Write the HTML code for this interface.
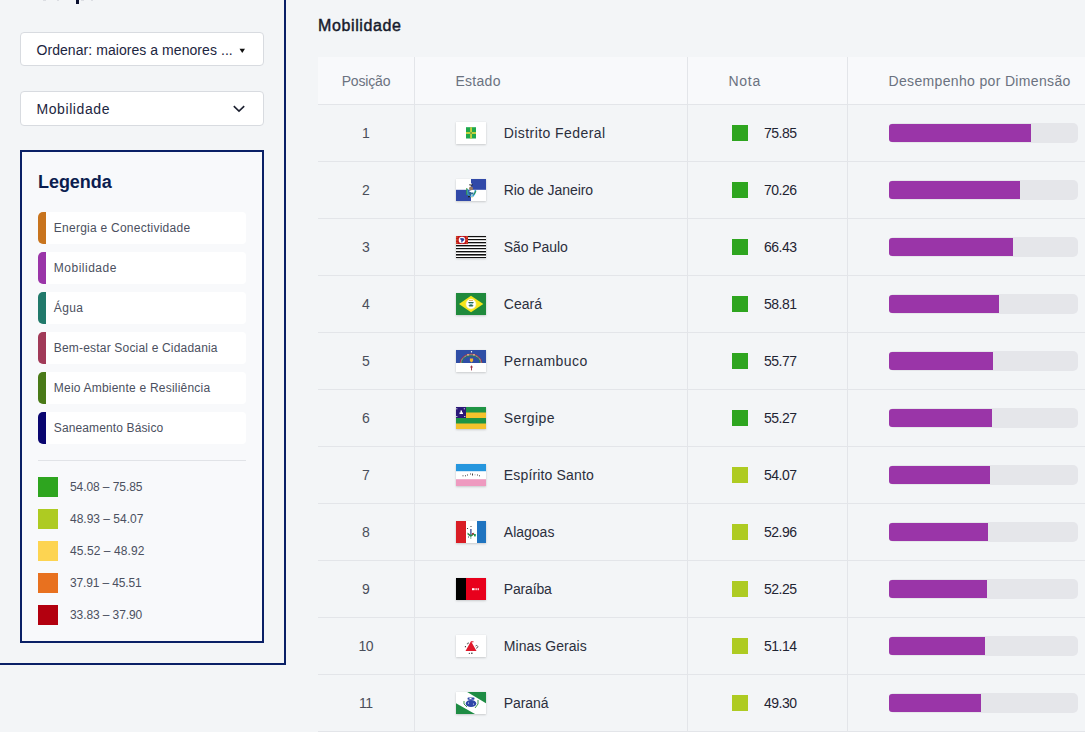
<!DOCTYPE html>
<html><head><meta charset="utf-8">
<style>
html,body{margin:0;padding:0;}
body{width:1085px;height:732px;overflow:hidden;background:#f3f5f7;position:relative;font-family:"Liberation Sans",sans-serif;}
.t{position:absolute;white-space:nowrap;line-height:1;}
.a{position:absolute;}
</style></head><body>
<div class="a" style="left:284px;top:0;width:2px;height:665px;background:#0a2066"></div>
<div class="a" style="left:0;top:663px;width:286px;height:2px;background:#0a2066"></div>
<div class="a" style="left:76px;top:0;width:2.6px;height:3.8px;background:#0b1030"></div>
<div class="a" style="left:43px;top:0;width:2.5px;height:1px;background:#dcdee3"></div>
<div class="a" style="left:56.5px;top:0;width:2.5px;height:1px;background:#dcdee3"></div>
<div class="a" style="left:81px;top:0;width:2.5px;height:1px;background:#dcdee3"></div>
<div class="a" style="left:90.5px;top:0;width:2.5px;height:1px;background:#dcdee3"></div>
<div class="a" style="left:20px;top:32px;width:242px;height:32px;border:1px solid #d8dbe0;border-radius:4px;background:#fff"></div>
<div class="t" style="left:36.5px;top:43.45px;font-size:14px;font-weight:400;color:#1c2540;letter-spacing:0.059px;">Ordenar: maiores a menores ...</div>
<svg class="a" style="left:239px;top:48px" width="7" height="6"><polygon points="0.5,0.7 6,0.7 3.25,5" fill="#111"/></svg>
<div class="a" style="left:20px;top:91px;width:242px;height:33px;border:1px solid #d8dbe0;border-radius:4px;background:#fff"></div>
<div class="t" style="left:36.5px;top:102.35px;font-size:14px;font-weight:400;color:#1c2540;letter-spacing:0.58px;">Mobilidade</div>
<svg class="a" style="left:232px;top:104px" width="14" height="10"><path d="M1.8 2.2 L7 7.2 L12.2 2.2" fill="none" stroke="#1c2030" stroke-width="1.6"/></svg>
<div class="a" style="left:20px;top:150px;width:240px;height:489px;border:2px solid #0a2066;background:#f8f9fb"></div>
<div class="t" style="left:38px;top:172.56px;font-size:18px;font-weight:700;color:#0b1d4f;letter-spacing:-0.05px;">Legenda</div>
<div class="a" style="left:38px;top:212px;width:208px;height:32px;background:#fff;border-radius:4px"></div>
<div class="a" style="left:38px;top:212px;width:8px;height:32px;background:#c8741e;border-radius:5px 0 0 5px"></div>
<div class="t" style="left:53.8px;top:221.64px;font-size:12px;font-weight:400;color:#4b5060;letter-spacing:0.25px;">Energia e Conectividade</div>
<div class="a" style="left:38px;top:252px;width:208px;height:32px;background:#fff;border-radius:4px"></div>
<div class="a" style="left:38px;top:252px;width:8px;height:32px;background:#9a35a8;border-radius:5px 0 0 5px"></div>
<div class="t" style="left:53.8px;top:261.64px;font-size:12px;font-weight:400;color:#4b5060;letter-spacing:0.5px;">Mobilidade</div>
<div class="a" style="left:38px;top:292px;width:208px;height:32px;background:#fff;border-radius:4px"></div>
<div class="a" style="left:38px;top:292px;width:8px;height:32px;background:#21796b;border-radius:5px 0 0 5px"></div>
<div class="t" style="left:53.8px;top:301.64px;font-size:12px;font-weight:400;color:#4b5060;letter-spacing:0.333px;">Água</div>
<div class="a" style="left:38px;top:332px;width:208px;height:32px;background:#fff;border-radius:4px"></div>
<div class="a" style="left:38px;top:332px;width:8px;height:32px;background:#a13a58;border-radius:5px 0 0 5px"></div>
<div class="t" style="left:53.8px;top:341.64px;font-size:12px;font-weight:400;color:#4b5060;letter-spacing:0.185px;">Bem-estar Social e Cidadania</div>
<div class="a" style="left:38px;top:372px;width:208px;height:32px;background:#fff;border-radius:4px"></div>
<div class="a" style="left:38px;top:372px;width:8px;height:32px;background:#4a7a18;border-radius:5px 0 0 5px"></div>
<div class="t" style="left:53.8px;top:381.64px;font-size:12px;font-weight:400;color:#4b5060;letter-spacing:0.212px;">Meio Ambiente e Resiliência</div>
<div class="a" style="left:38px;top:412px;width:208px;height:32px;background:#fff;border-radius:4px"></div>
<div class="a" style="left:38px;top:412px;width:8px;height:32px;background:#0a0670;border-radius:5px 0 0 5px"></div>
<div class="t" style="left:53.8px;top:421.64px;font-size:12px;font-weight:400;color:#4b5060;letter-spacing:0.125px;">Saneamento Básico</div>
<div class="a" style="left:38px;top:460px;width:208px;height:1px;background:#e1e3e7"></div>
<div class="a" style="left:38px;top:477px;width:20px;height:20px;background:#2ea51f"></div>
<div class="t" style="left:70px;top:480.54px;font-size:12px;font-weight:400;color:#4b5060;letter-spacing:-0.083px;">54.08 – 75.85</div>
<div class="a" style="left:38px;top:509px;width:20px;height:20px;background:#aecb22"></div>
<div class="t" style="left:70px;top:512.54px;font-size:12px;font-weight:400;color:#4b5060;">48.93 – 54.07</div>
<div class="a" style="left:38px;top:541px;width:20px;height:20px;background:#fdd451"></div>
<div class="t" style="left:70px;top:544.54px;font-size:12px;font-weight:400;color:#4b5060;letter-spacing:0.083px;">45.52 – 48.92</div>
<div class="a" style="left:38px;top:573px;width:20px;height:20px;background:#e8711f"></div>
<div class="t" style="left:70px;top:576.54px;font-size:12px;font-weight:400;color:#4b5060;letter-spacing:-0.15px;">37.91 – 45.51</div>
<div class="a" style="left:38px;top:605px;width:20px;height:20px;background:#b3000f"></div>
<div class="t" style="left:70px;top:608.54px;font-size:12px;font-weight:400;color:#4b5060;letter-spacing:-0.1px;">33.83 – 37.90</div>
<div class="t" style="left:318px;top:17.66px;font-size:16px;font-weight:400;color:#161b2c;letter-spacing:0.62px;-webkit-text-stroke:0.45px #161b2c;">Mobilidade</div>
<div class="a" style="left:318px;top:57px;width:767px;height:47px;background:#f8f9fb"></div>
<div class="t" style="left:341.7px;top:74.15px;font-size:14px;font-weight:400;color:#6b7280;letter-spacing:-0.167px;">Posição</div>
<div class="t" style="left:455.4px;top:74.15px;font-size:14px;font-weight:400;color:#6b7280;letter-spacing:0.3px;">Estado</div>
<div class="t" style="left:728.6px;top:74.15px;font-size:14px;font-weight:400;color:#6b7280;letter-spacing:0.667px;">Nota</div>
<div class="t" style="left:888.5px;top:74.15px;font-size:14px;font-weight:400;color:#6b7280;letter-spacing:0.341px;">Desempenho por Dimensão</div>
<div class="a" style="left:414px;top:57px;width:1px;height:675px;background:#e3e5e9"></div>
<div class="a" style="left:687px;top:57px;width:1px;height:675px;background:#e3e5e9"></div>
<div class="a" style="left:847px;top:57px;width:1px;height:675px;background:#e3e5e9"></div>
<div class="a" style="left:318px;top:104px;width:767px;height:1px;background:#e3e5e9"></div>
<div class="a" style="left:318px;top:161px;width:767px;height:1px;background:#e3e5e9"></div>
<div class="a" style="left:318px;top:218px;width:767px;height:1px;background:#e3e5e9"></div>
<div class="a" style="left:318px;top:275px;width:767px;height:1px;background:#e3e5e9"></div>
<div class="a" style="left:318px;top:332px;width:767px;height:1px;background:#e3e5e9"></div>
<div class="a" style="left:318px;top:389px;width:767px;height:1px;background:#e3e5e9"></div>
<div class="a" style="left:318px;top:446px;width:767px;height:1px;background:#e3e5e9"></div>
<div class="a" style="left:318px;top:503px;width:767px;height:1px;background:#e3e5e9"></div>
<div class="a" style="left:318px;top:560px;width:767px;height:1px;background:#e3e5e9"></div>
<div class="a" style="left:318px;top:617px;width:767px;height:1px;background:#e3e5e9"></div>
<div class="a" style="left:318px;top:674px;width:767px;height:1px;background:#e3e5e9"></div>
<div class="a" style="left:318px;top:731px;width:767px;height:1px;background:#e3e5e9"></div>
<div class="t" style="left:318px;width:96px;text-align:center;top:126.15px;font-size:14px;color:#4a4e5a;letter-spacing:-0.4px;text-indent:-0.4px">1</div>
<svg class="a" style="left:456px;top:122px;box-shadow:0 1px 2px rgba(0,0,0,0.16),0 0 1px rgba(0,0,0,0.08)" width="30" height="22" viewBox="0 0 30 22"><rect width="30" height="22" fill="#fff"/><rect x="10" y="5.2" width="10" height="11.3" fill="#1ea84c"/><rect x="14.2" y="5.2" width="1.7" height="11.3" fill="#d2d43c"/><rect x="10" y="10.1" width="10" height="1.8" fill="#d2d43c"/><rect x="14.2" y="10.1" width="1.7" height="1.8" fill="#6aa040"/></svg>
<div class="t" style="left:503.8px;top:126.15px;font-size:14px;font-weight:400;color:#2b2f3d;letter-spacing:0.427px;">Distrito Federal</div>
<div class="a" style="left:732px;top:125px;width:16px;height:16px;background:#2ea51f"></div>
<div class="t" style="left:764px;top:126.15px;font-size:14px;font-weight:400;color:#1f2433;letter-spacing:-0.5px;">75.85</div>
<div class="a" style="left:889px;top:123px;width:189px;height:20px;background:#e5e6ea;border-radius:5px"></div>
<div class="a" style="left:889px;top:124px;width:141.8px;height:18px;background:#9a35a8;border-radius:3px 0 0 3px"></div>
<div class="t" style="left:318px;width:96px;text-align:center;top:183.15px;font-size:14px;color:#4a4e5a;letter-spacing:-0.4px;text-indent:-0.4px">2</div>
<svg class="a" style="left:456px;top:179px;box-shadow:0 1px 2px rgba(0,0,0,0.16),0 0 1px rgba(0,0,0,0.08)" width="30" height="22" viewBox="0 0 30 22"><rect width="30" height="22" fill="#fff"/><rect x="15" y="0" width="15" height="10.8" fill="#3149a8"/><rect x="0" y="10.8" width="15" height="11.2" fill="#3149a8"/><path d="M11.5 10 Q11 15 14 17.5 L17 17 Q19 15 19.5 11" fill="none" stroke="#3aa0d0" stroke-width="1.6"/><rect x="13" y="7.5" width="4" height="4" rx="2" fill="#9a7a62"/><rect x="13.5" y="5" width="3" height="1.5" fill="#222"/><rect x="14" y="4.5" width="2" height="1" fill="#fff"/><path d="M10.8 9 v7" stroke="#3a9a40" stroke-width="1"/><path d="M20 12 l-2 3.5" stroke="#2a9a40" stroke-width="1"/><rect x="13.5" y="11.5" width="3" height="1.6" fill="#fff"/><rect x="12.5" y="13.5" width="5" height="2" fill="#2a6a90"/><rect x="12" y="16.8" width="2" height="1.5" fill="#222"/><rect x="15" y="17.5" width="2" height="1.2" fill="#e8e0b0"/></svg>
<div class="t" style="left:503.8px;top:183.15px;font-size:14px;font-weight:400;color:#2b2f3d;letter-spacing:-0.077px;">Rio de Janeiro</div>
<div class="a" style="left:732px;top:182px;width:16px;height:16px;background:#2ea51f"></div>
<div class="t" style="left:764px;top:183.15px;font-size:14px;font-weight:400;color:#1f2433;letter-spacing:-0.5px;">70.26</div>
<div class="a" style="left:889px;top:180px;width:189px;height:20px;background:#e5e6ea;border-radius:5px"></div>
<div class="a" style="left:889px;top:181px;width:131.4px;height:18px;background:#9a35a8;border-radius:3px 0 0 3px"></div>
<div class="t" style="left:318px;width:96px;text-align:center;top:240.15px;font-size:14px;color:#4a4e5a;letter-spacing:-0.4px;text-indent:-0.4px">3</div>
<svg class="a" style="left:456px;top:236px;box-shadow:0 1px 2px rgba(0,0,0,0.16),0 0 1px rgba(0,0,0,0.08)" width="30" height="22" viewBox="0 0 30 22"><rect width="30" height="22" fill="#fff"/><rect x="0" y="0" width="30" height="1.2" fill="#111"/><rect x="0" y="3" width="30" height="1.2" fill="#111"/><rect x="0" y="6" width="30" height="1.3" fill="#111"/><rect x="0" y="9" width="30" height="1.4" fill="#111"/><rect x="0" y="12" width="30" height="1.2" fill="#111"/><rect x="0" y="15" width="30" height="1.4" fill="#111"/><rect x="0" y="18" width="30" height="1.6" fill="#111"/><rect x="0" y="21" width="30" height="1" fill="#111"/><rect x="0" y="0" width="12" height="8.1" fill="#c0141c"/><circle cx="6" cy="4" r="3.3" fill="#fff"/><path d="M3.6 2.6 l2.4 -0.6 l2.4 0.8 l-0.4 1.6 l-1.2 0.6 l-0.8 2 l-0.8 -1.2 l0.2 -1.4 z" fill="#2a3f9a"/><g fill="#f0c040"><rect x="0.4" y="0.6" width="1" height="1"/><rect x="10.4" y="0.6" width="1" height="1"/><rect x="0.4" y="6.4" width="1" height="1"/><rect x="10.4" y="6.4" width="1" height="1"/><rect x="10.4" y="3.4" width="1" height="1"/><rect x="0.4" y="3.4" width="1" height="1"/></g></svg>
<div class="t" style="left:503.8px;top:240.15px;font-size:14px;font-weight:400;color:#2b2f3d;letter-spacing:-0.062px;">São Paulo</div>
<div class="a" style="left:732px;top:239px;width:16px;height:16px;background:#2ea51f"></div>
<div class="t" style="left:764px;top:240.15px;font-size:14px;font-weight:400;color:#1f2433;letter-spacing:-0.5px;">66.43</div>
<div class="a" style="left:889px;top:237px;width:189px;height:20px;background:#e5e6ea;border-radius:5px"></div>
<div class="a" style="left:889px;top:238px;width:124.2px;height:18px;background:#9a35a8;border-radius:3px 0 0 3px"></div>
<div class="t" style="left:318px;width:96px;text-align:center;top:297.15px;font-size:14px;color:#4a4e5a;letter-spacing:-0.4px;text-indent:-0.4px">4</div>
<svg class="a" style="left:456px;top:293px;box-shadow:0 1px 2px rgba(0,0,0,0.16),0 0 1px rgba(0,0,0,0.08)" width="30" height="22" viewBox="0 0 30 22"><rect width="30" height="22" fill="#1f8a3c"/><polygon points="3,11 15,2.8 27.3,11 15,19.2" fill="#f6e51c"/><circle cx="15" cy="11" r="5" fill="#fff"/><circle cx="15" cy="11" r="5" fill="none" stroke="#f6f0a0" stroke-width="0.6"/><path d="M12.2 9 h5.6 l-0.6 1.2 l-1 0.2 l0 1.6 l1.4 0.6 l-1 1 h-3.2 l-1 -1 l1.4 -0.6 l0 -1.6 l-1 -0.2 z" fill="#2a6a50"/><rect x="13.5" y="10" width="3" height="1.6" fill="#9ad0e0"/><rect x="13" y="7" width="4" height="0.8" fill="#c9a040"/></svg>
<div class="t" style="left:503.8px;top:297.15px;font-size:14px;font-weight:400;color:#2b2f3d;">Ceará</div>
<div class="a" style="left:732px;top:296px;width:16px;height:16px;background:#2ea51f"></div>
<div class="t" style="left:764px;top:297.15px;font-size:14px;font-weight:400;color:#1f2433;letter-spacing:-0.5px;">58.81</div>
<div class="a" style="left:889px;top:294px;width:189px;height:20px;background:#e5e6ea;border-radius:5px"></div>
<div class="a" style="left:889px;top:295px;width:110.0px;height:18px;background:#9a35a8;border-radius:3px 0 0 3px"></div>
<div class="t" style="left:318px;width:96px;text-align:center;top:354.15px;font-size:14px;color:#4a4e5a;letter-spacing:-0.4px;text-indent:-0.4px">5</div>
<svg class="a" style="left:456px;top:350px;box-shadow:0 1px 2px rgba(0,0,0,0.16),0 0 1px rgba(0,0,0,0.08)" width="30" height="22" viewBox="0 0 30 22"><rect width="30" height="22" fill="#fff"/><rect width="30" height="13" fill="#2f4ea6"/><path d="M4.2 13 A10.8 9 0 0 1 25.8 13" fill="none" stroke="#b0303a" stroke-width="0.9"/><path d="M5.1 13 A9.9 8.1 0 0 1 24.9 13" fill="none" stroke="#e8d080" stroke-width="0.9" stroke-dasharray="1 0.6"/><path d="M6 13 A9 7.2 0 0 1 24 13" fill="none" stroke="#2a8a3a" stroke-width="0.8"/><path d="M11 4.8 h2.2 M16.8 4.8 h2.2" stroke="#f0c090" stroke-width="1"/><path d="M13.9 8.4 h3.2 v2.6 l-1.6 1.4 l-1.6 -1.4 z" fill="#f2b630"/><circle cx="15.5" cy="1.7" r="0.7" fill="#fff"/><path d="M15.5 15.6 v4.8 M14.2 17 h2.6" stroke="#9a2a3a" stroke-width="0.9"/></svg>
<div class="t" style="left:503.8px;top:354.15px;font-size:14px;font-weight:400;color:#2b2f3d;letter-spacing:0.444px;">Pernambuco</div>
<div class="a" style="left:732px;top:353px;width:16px;height:16px;background:#2ea51f"></div>
<div class="t" style="left:764px;top:354.15px;font-size:14px;font-weight:400;color:#1f2433;letter-spacing:-0.5px;">55.77</div>
<div class="a" style="left:889px;top:351px;width:189px;height:20px;background:#e5e6ea;border-radius:5px"></div>
<div class="a" style="left:889px;top:352px;width:104.3px;height:18px;background:#9a35a8;border-radius:3px 0 0 3px"></div>
<div class="t" style="left:318px;width:96px;text-align:center;top:411.15px;font-size:14px;color:#4a4e5a;letter-spacing:-0.4px;text-indent:-0.4px">6</div>
<svg class="a" style="left:456px;top:407px;box-shadow:0 1px 2px rgba(0,0,0,0.16),0 0 1px rgba(0,0,0,0.08)" width="30" height="22" viewBox="0 0 30 22"><rect width="30" height="22" fill="#f4c22c"/><rect y="0" width="30" height="5.5" fill="#1e9444"/><rect y="11" width="30" height="5.5" fill="#1e9444"/><rect x="0" y="0" width="10" height="11" fill="#2a1878"/><path d="M3.5 7 h3.5 v-1.5 h-1 v-2 h-1.5 v2 h-1 z" fill="#fff"/><g fill="#fff"><rect x="0.3" y="1.3" width="1" height="1"/><rect x="7.8" y="1.3" width="1" height="1"/><rect x="8.3" y="9" width="1" height="1"/><rect x="0.3" y="9" width="1" height="1"/></g></svg>
<div class="t" style="left:503.8px;top:411.15px;font-size:14px;font-weight:400;color:#2b2f3d;letter-spacing:0.417px;">Sergipe</div>
<div class="a" style="left:732px;top:410px;width:16px;height:16px;background:#2ea51f"></div>
<div class="t" style="left:764px;top:411.15px;font-size:14px;font-weight:400;color:#1f2433;letter-spacing:-0.5px;">55.27</div>
<div class="a" style="left:889px;top:408px;width:189px;height:20px;background:#e5e6ea;border-radius:5px"></div>
<div class="a" style="left:889px;top:409px;width:103.4px;height:18px;background:#9a35a8;border-radius:3px 0 0 3px"></div>
<div class="t" style="left:318px;width:96px;text-align:center;top:468.15px;font-size:14px;color:#4a4e5a;letter-spacing:-0.4px;text-indent:-0.4px">7</div>
<svg class="a" style="left:456px;top:464px;box-shadow:0 1px 2px rgba(0,0,0,0.16),0 0 1px rgba(0,0,0,0.08)" width="30" height="22" viewBox="0 0 30 22"><rect width="30" height="22" fill="#fff"/><rect width="30" height="7.2" fill="#2596de"/><rect y="15.2" width="30" height="6.8" fill="#ee9ac0"/><g fill="#444"><rect x="6.5" y="11.3" width="1" height="1"/><rect x="9" y="11.3" width="1" height="1"/><rect x="11" y="10.5" width="1" height="1"/><rect x="14" y="9.5" width="1" height="1"/><rect x="16" y="9.5" width="1" height="2"/><rect x="18.5" y="10.3" width="1" height="1" fill="#aaa"/><rect x="21" y="10.5" width="1" height="1"/><rect x="23" y="11.3" width="1" height="1"/></g></svg>
<div class="t" style="left:503.8px;top:468.15px;font-size:14px;font-weight:400;color:#2b2f3d;letter-spacing:0.154px;">Espírito Santo</div>
<div class="a" style="left:732px;top:467px;width:16px;height:16px;background:#aecb22"></div>
<div class="t" style="left:764px;top:468.15px;font-size:14px;font-weight:400;color:#1f2433;letter-spacing:-0.5px;">54.07</div>
<div class="a" style="left:889px;top:465px;width:189px;height:20px;background:#e5e6ea;border-radius:5px"></div>
<div class="a" style="left:889px;top:466px;width:101.1px;height:18px;background:#9a35a8;border-radius:3px 0 0 3px"></div>
<div class="t" style="left:318px;width:96px;text-align:center;top:525.15px;font-size:14px;color:#4a4e5a;letter-spacing:-0.4px;text-indent:-0.4px">8</div>
<svg class="a" style="left:456px;top:521px;box-shadow:0 1px 2px rgba(0,0,0,0.16),0 0 1px rgba(0,0,0,0.08)" width="30" height="22" viewBox="0 0 30 22"><rect width="30" height="22" fill="#fff"/><rect width="10" height="22" fill="#d91d25"/><rect x="21" width="9" height="22" fill="#1f74c0"/><g><rect x="14.3" y="8" width="1.2" height="6" fill="#2a3a8a"/><path d="M11.5 11.5 l3.3 2.5 l3.3 -2.5 v2 l-3.3 2.5 l-3.3 -2.5 z" fill="#2a8a4a"/><rect x="16" y="12" width="1.6" height="1.6" fill="#c0303a"/><rect x="18" y="13" width="1.8" height="2.4" fill="#1f9a50"/><circle cx="15" cy="5.5" r="0.6" fill="#222"/><circle cx="11.5" cy="7.5" r="0.6" fill="#222"/><rect x="12" y="15.5" width="1" height="1" fill="#335"/><rect x="14" y="16.6" width="1.5" height="0.8" fill="#2a7a5a"/></g></svg>
<div class="t" style="left:503.8px;top:525.15px;font-size:14px;font-weight:400;color:#2b2f3d;">Alagoas</div>
<div class="a" style="left:732px;top:524px;width:16px;height:16px;background:#aecb22"></div>
<div class="t" style="left:764px;top:525.15px;font-size:14px;font-weight:400;color:#1f2433;letter-spacing:-0.5px;">52.96</div>
<div class="a" style="left:889px;top:522px;width:189px;height:20px;background:#e5e6ea;border-radius:5px"></div>
<div class="a" style="left:889px;top:523px;width:99.0px;height:18px;background:#9a35a8;border-radius:3px 0 0 3px"></div>
<div class="t" style="left:318px;width:96px;text-align:center;top:582.15px;font-size:14px;color:#4a4e5a;letter-spacing:-0.4px;text-indent:-0.4px">9</div>
<svg class="a" style="left:456px;top:578px;box-shadow:0 1px 2px rgba(0,0,0,0.16),0 0 1px rgba(0,0,0,0.08)" width="30" height="22" viewBox="0 0 30 22"><rect width="30" height="22" fill="#e8001c"/><rect width="10" height="22" fill="#000"/><rect x="16" y="10.2" width="2.6" height="2" fill="#fff"/><rect x="19.5" y="10.2" width="1.2" height="2" fill="#fff"/><rect x="21.6" y="10.2" width="1.2" height="2" fill="#fff"/></svg>
<div class="t" style="left:503.8px;top:582.15px;font-size:14px;font-weight:400;color:#2b2f3d;letter-spacing:-0.167px;">Paraíba</div>
<div class="a" style="left:732px;top:581px;width:16px;height:16px;background:#aecb22"></div>
<div class="t" style="left:764px;top:582.15px;font-size:14px;font-weight:400;color:#1f2433;letter-spacing:-0.5px;">52.25</div>
<div class="a" style="left:889px;top:579px;width:189px;height:20px;background:#e5e6ea;border-radius:5px"></div>
<div class="a" style="left:889px;top:580px;width:97.7px;height:18px;background:#9a35a8;border-radius:3px 0 0 3px"></div>
<div class="t" style="left:318px;width:96px;text-align:center;top:639.15px;font-size:14px;color:#4a4e5a;letter-spacing:-0.4px;text-indent:-0.4px">10</div>
<svg class="a" style="left:456px;top:635px;box-shadow:0 1px 2px rgba(0,0,0,0.16),0 0 1px rgba(0,0,0,0.08)" width="30" height="22" viewBox="0 0 30 22"><rect width="30" height="22" fill="#fff"/><polygon points="15,6.3 9.5,16 20.5,16" fill="#e0182a"/><rect x="15" y="6.3" width="2.5" height="1" fill="#e0182a"/><circle cx="12.3" cy="8" r="0.6" fill="#222"/><circle cx="11.3" cy="8.8" r="0.5" fill="#222"/><circle cx="9.4" cy="11.7" r="0.6" fill="#222"/><path d="M19.5 11 a1.3 1.3 0 1 1 0.5 2" fill="none" stroke="#222" stroke-width="0.7"/><circle cx="13.3" cy="18.3" r="0.6" fill="#222"/><rect x="15" y="17.7" width="1.6" height="1" fill="#222"/></svg>
<div class="t" style="left:503.8px;top:639.15px;font-size:14px;font-weight:400;color:#2b2f3d;letter-spacing:0.045px;">Minas Gerais</div>
<div class="a" style="left:732px;top:638px;width:16px;height:16px;background:#aecb22"></div>
<div class="t" style="left:764px;top:639.15px;font-size:14px;font-weight:400;color:#1f2433;letter-spacing:-0.5px;">51.14</div>
<div class="a" style="left:889px;top:636px;width:189px;height:20px;background:#e5e6ea;border-radius:5px"></div>
<div class="a" style="left:889px;top:637px;width:95.6px;height:18px;background:#9a35a8;border-radius:3px 0 0 3px"></div>
<div class="t" style="left:318px;width:96px;text-align:center;top:696.15px;font-size:14px;color:#4a4e5a;letter-spacing:-0.4px;text-indent:-0.4px">11</div>
<svg class="a" style="left:456px;top:692px;box-shadow:0 1px 2px rgba(0,0,0,0.16),0 0 1px rgba(0,0,0,0.08)" width="30" height="22" viewBox="0 0 30 22"><rect width="30" height="22" fill="#fff"/><polygon points="11.2,0 30,0 30,11.2" fill="#1e8c44"/><polygon points="0,11.2 0,22 19,22" fill="#1e8c44"/><ellipse cx="15" cy="11.5" rx="5.3" ry="3.6" fill="#2f47a8"/><rect x="11.5" y="5.5" width="7" height="2.2" rx="1" fill="#2f47a8"/><rect x="13.5" y="6" width="2" height="1" fill="#fff"/><circle cx="12.5" cy="11" r="0.6" fill="#fff"/><circle cx="17.5" cy="12" r="0.6" fill="#fff"/><path d="M8 9 v3 l3 3 M22 8 v4 l-3 4" fill="none" stroke="#2a8a3a" stroke-width="0.9"/></svg>
<div class="t" style="left:503.8px;top:696.15px;font-size:14px;font-weight:400;color:#2b2f3d;letter-spacing:-0.08px;">Paraná</div>
<div class="a" style="left:732px;top:695px;width:16px;height:16px;background:#aecb22"></div>
<div class="t" style="left:764px;top:696.15px;font-size:14px;font-weight:400;color:#1f2433;letter-spacing:-0.5px;">49.30</div>
<div class="a" style="left:889px;top:693px;width:189px;height:20px;background:#e5e6ea;border-radius:5px"></div>
<div class="a" style="left:889px;top:694px;width:92.2px;height:18px;background:#9a35a8;border-radius:3px 0 0 3px"></div>
</body></html>
